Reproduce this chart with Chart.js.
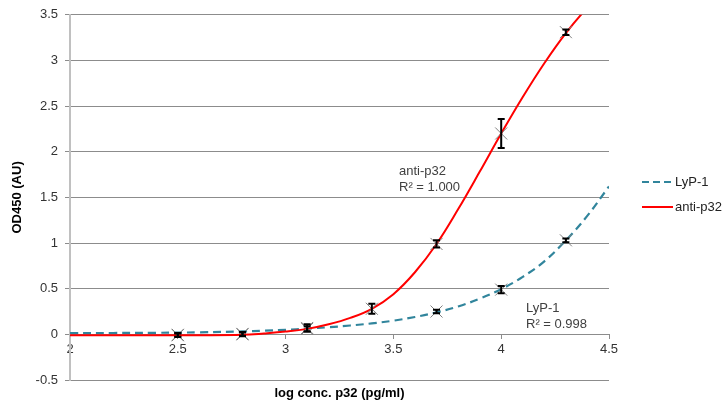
<!DOCTYPE html>
<html>
<head>
<meta charset="utf-8">
<script src="https://cdn.jsdelivr.net/npm/chart.js@4"></script>
<style>
  html, body { margin: 0; padding: 0; background: #fff; }
  #wrap { width: 727px; height: 405px; }
</style>
</head>
<body>
<div id="wrap"><canvas id="chart" width="727" height="405"></canvas></div>
<script>
// measured points (log conc) with means and error bar half-heights
const antiX = [2.5, 2.8, 3.1, 3.4, 3.7, 4.0, 4.3];
const antiY = [-0.01, 0.0, 0.07, 0.28, 0.99, 2.2, 3.31];
const antiErr = [0.02, 0.02, 0.04, 0.055, 0.04, 0.16, 0.03];

const lypX = [2.5, 2.8, 3.1, 3.7, 4.0, 4.3];
const lypY = [-0.005, 0.005, 0.06, 0.25, 0.49, 1.03];
const lypErr = [0.02, 0.02, 0.03, 0.02, 0.04, 0.02];

// fitted curves
const fitX = [2.0, 2.2, 2.4, 2.6, 2.8, 2.9, 3.0, 3.1, 3.2, 3.3, 3.4, 3.5, 3.6, 3.7, 3.8, 3.9, 4.0, 4.1, 4.2, 4.3, 4.4, 4.5];
const antiFit = [-0.01, -0.01, -0.01, -0.01, -0.005, 0.01, 0.03, 0.06, 0.11, 0.18, 0.28, 0.44, 0.68, 0.99, 1.37, 1.78, 2.2, 2.6, 2.97, 3.3, 3.58, 3.82];
const lypFit = [0.014, 0.015, 0.017, 0.022, 0.032, 0.04, 0.05, 0.063, 0.078, 0.097, 0.12, 0.15, 0.19, 0.24, 0.305, 0.39, 0.495, 0.63, 0.8, 1.03, 1.3, 1.62];

const seriesNames = ['LyP-1', 'anti-p32'];
const fitLabels = [['anti-p32', 'R\u00b2 = 1.000'], ['LyP-1', 'R\u00b2 = 0.998']];

const RED = '#ff0000';
const TEAL = '#31859c';
const FONT = "'Liberation Sans', Arial, sans-serif";

const toXY = (xs, ys) => xs.map((x, i) => ({ x: x, y: ys[i] }));
const plainNum = (v) => String(Number(v.toFixed(2)));

const errorBars = {
  id: 'errorBars',
  afterDatasetsDraw(chart) {
    const { ctx, scales: { x, y } } = chart;
    const sets = [[antiX, antiY, antiErr], [lypX, lypY, lypErr]];
    ctx.save();
    ctx.strokeStyle = '#000';
    ctx.lineWidth = 2;
    sets.forEach(([xs, ys, es]) => {
      xs.forEach((xv, i) => {
        const px = x.getPixelForValue(xv);
        const top = y.getPixelForValue(ys[i] + es[i]);
        const bot = y.getPixelForValue(ys[i] - es[i]);
        ctx.beginPath();
        ctx.moveTo(px, top); ctx.lineTo(px, bot);
        ctx.moveTo(px - 3.5, top); ctx.lineTo(px + 3.5, top);
        ctx.moveTo(px - 3.5, bot); ctx.lineTo(px + 3.5, bot);
        ctx.stroke();
      });
    });
    ctx.restore();
  }
};

const extras = {
  id: 'extras',
  afterDraw(chart) {
    const { ctx, chartArea, scales: { x, y } } = chart;
    ctx.save();
    // fit labels
    ctx.fillStyle = '#404040';
    ctx.font = '13px ' + FONT;
    ctx.textAlign = 'left';
    ctx.textBaseline = 'alphabetic';
    const spots = [[3.526, 1.75], [4.115, 0.24]];
    fitLabels.forEach((lines, k) => {
      const px = x.getPixelForValue(spots[k][0]);
      const py = y.getPixelForValue(spots[k][1]);
      lines.forEach((t, j) => ctx.fillText(t, px, py + j * 16));
    });
    // x axis title
    ctx.fillStyle = '#000';
    ctx.font = 'bold 13px ' + FONT;
    ctx.textAlign = 'center';
    ctx.fillText('log conc. p32 (pg/ml)', (chartArea.left + chartArea.right) / 2, 397);
    // legend
    ctx.font = '13px ' + FONT;
    ctx.textAlign = 'left';
    ctx.textBaseline = 'middle';
    const colors = [TEAL, RED];
    const dashes = [[7, 4], []];
    seriesNames.forEach((name, i) => {
      const ly = 182 + i * 25;
      ctx.strokeStyle = colors[i];
      ctx.lineWidth = 2;
      ctx.setLineDash(dashes[i]);
      ctx.beginPath();
      ctx.moveTo(642, ly); ctx.lineTo(673, ly);
      ctx.stroke();
      ctx.setLineDash([]);
      ctx.fillStyle = '#222';
      ctx.fillText(name, 675, ly);
    });
    ctx.restore();
  }
};

new Chart(document.getElementById('chart'), {
  type: 'scatter',
  data: {
    datasets: [
      {
        label: 'anti-p32 points',
        data: toXY(antiX, antiY),
        pointStyle: 'crossRot',
        pointRadius: 8.5,
        pointBorderColor: '#7f7f7f',
        pointBorderWidth: 1,
        showLine: false
      },
      {
        label: 'LyP-1 points',
        data: toXY(lypX, lypY),
        pointStyle: 'crossRot',
        pointRadius: 8.5,
        pointBorderColor: '#7f7f7f',
        pointBorderWidth: 1,
        showLine: false
      },
      {
        label: seriesNames[1],
        data: toXY(fitX, antiFit),
        showLine: true,
        borderColor: RED,
        borderWidth: 2,
        pointRadius: 0,
        tension: 0.4
      },
      {
        label: seriesNames[0],
        data: toXY(fitX, lypFit),
        showLine: true,
        borderColor: TEAL,
        borderWidth: 2.2,
        borderDash: [8, 5],
        pointRadius: 0,
        tension: 0.4
      }
    ]
  },
  options: {
    responsive: false,
    animation: false,
    layout: { padding: { top: 14, right: 118, bottom: 25, left: 0 } },
    plugins: {
      legend: { display: false },
      tooltip: { enabled: false }
    },
    scales: {
      x: {
        type: 'linear',
        position: { y: 0 },
        min: 2,
        max: 4.5,
        ticks: {
          stepSize: 0.5,
          padding: 3,
          color: '#333',
          font: { family: FONT, size: 13 },
          callback: plainNum
        },
        grid: { drawOnChartArea: false, drawTicks: true, tickLength: 4, color: '#8c8c8c' },
        border: { display: true, color: '#8c8c8c', width: 1 }
      },
      y: {
        type: 'linear',
        min: -0.5,
        max: 3.5,
        ticks: {
          stepSize: 0.5,
          padding: 7,
          color: '#333',
          font: { family: FONT, size: 13 },
          callback: plainNum
        },
        grid: { color: '#8c8c8c', tickLength: 5 },
        border: { color: '#c0c0c0', width: 2 },
        title: {
          display: true,
          text: 'OD450 (AU)',
          color: '#000',
          font: { family: FONT, size: 13, weight: 'bold' },
          padding: { top: 10, bottom: 0 }
        },
        afterFit(scale) { scale.width = 70; }
      }
    }
  },
  plugins: [errorBars, extras]
});
</script>
</body>
</html>
